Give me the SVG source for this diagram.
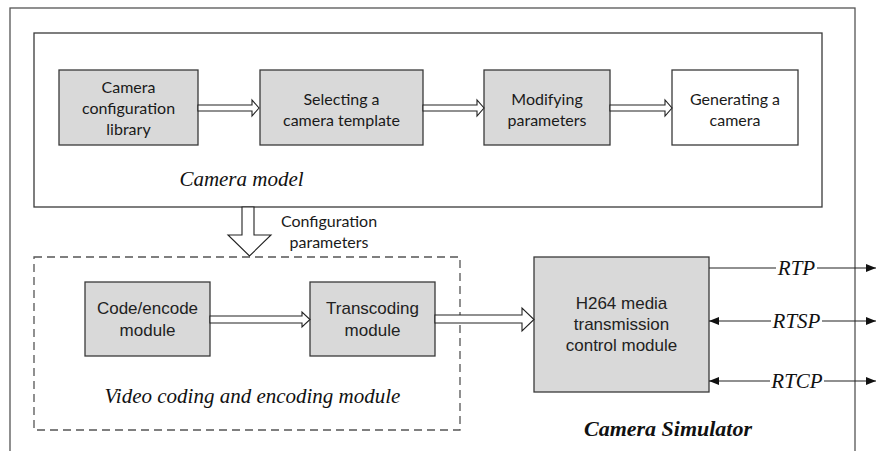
<svg xmlns="http://www.w3.org/2000/svg" width="876" height="451" viewBox="0 0 876 451">
<style>
.frame{fill:none;stroke:#555;stroke-width:1.3}
.box{fill:#d9d9d9;stroke:#3a3a3a;stroke-width:1.3}
.wbox{fill:#fff;stroke:#3a3a3a;stroke-width:1.3}
.dash{fill:none;stroke:#555;stroke-width:1.3;stroke-dasharray:8 5}
.arr{fill:#fff;stroke:#222;stroke-width:1.1}
.ln{stroke:#222;stroke-width:1.1;fill:none}
.t1{font-family:Lato,"Liberation Sans",sans-serif;font-size:16px;fill:#1a1a1a;text-anchor:middle}
.t2{font-family:"Liberation Sans",Arial,sans-serif;font-size:17px;fill:#222;text-anchor:middle}
.it{font-family:"Liberation Serif","Times New Roman",serif;font-style:italic;fill:#111}
.lbl{font-family:"Liberation Serif","Times New Roman",serif;font-style:italic;font-size:21px;fill:#111;text-anchor:middle}
</style>
<defs>
<marker id="fa" viewBox="0 0 10 8" refX="10" refY="4" markerWidth="10" markerHeight="8" markerUnits="userSpaceOnUse" orient="auto-start-reverse">
<path d="M0,0 L10,4 L0,8 Z" fill="#111"/>
</marker>
</defs>
<rect width="876" height="451" fill="#fff"/>
<rect id="camera-simulator" class="frame" x="10" y="8" width="845" height="460"/>
<g id="camera-model">
<rect class="wbox" x="34" y="33" width="788" height="174"/>
<text class="it" x="241.5" y="186" font-size="21" text-anchor="middle">Camera model</text>
</g>
<g id="n-library">
<rect class="box" x="59" y="70" width="139" height="75"/>
<text class="t1" x="128.5" y="93">Camera</text>
<text class="t1" x="128.5" y="114">configuration</text>
<text class="t1" x="128.5" y="135">library</text>
</g>
<g id="n-template">
<rect class="box" x="260" y="70" width="163" height="75"/>
<text class="t1" x="341.5" y="105">Selecting a</text>
<text class="t1" x="341.5" y="126">camera template</text>
</g>
<g id="n-modify">
<rect class="box" x="484" y="70" width="126" height="75"/>
<text class="t1" x="547" y="105">Modifying</text>
<text class="t1" x="547" y="126">parameters</text>
</g>
<g id="n-generate">
<rect class="wbox" x="672" y="70" width="126" height="75"/>
<text class="t1" x="735" y="105">Generating a</text>
<text class="t1" x="735" y="126">camera</text>
</g>
<g id="video-module">
<rect class="dash" x="34" y="257" width="426" height="173"/>
<text class="lbl" x="252.5" y="403">Video coding and encoding module</text>
</g>
<g id="n-code">
<rect class="box" x="85" y="282" width="125" height="74"/>
<text class="t2" x="147.5" y="314">Code/encode</text>
<text class="t2" x="147.5" y="336">module</text>
</g>
<g id="n-transcode">
<rect class="box" x="310" y="282" width="125" height="74"/>
<text class="t2" x="372.5" y="314">Transcoding</text>
<text class="t2" x="372.5" y="336">module</text>
</g>
<g id="n-h264">
<rect class="box" x="534" y="257" width="175" height="135"/>
<text class="t2" x="621.5" y="309">H264 media</text>
<text class="t2" x="621.5" y="330">transmission</text>
<text class="t2" x="621.5" y="351">control module</text>
</g>
<text class="it" x="668" y="436" font-size="22" font-weight="bold" text-anchor="middle">Camera Simulator</text>
<g id="connectors">
<path class="arr" d="M198,105 H252 V100 L259,108 L252,116 V111 H198 Z"/>
<path class="arr" d="M423,105 H477 V100 L484,108 L477,116 V111 H423 Z"/>
<path class="arr" d="M610,105 H665 V100 L672,108 L665,116 V111 H610 Z"/>
<path class="arr" d="M242,207 V235 H228 L249.5,256 L271,235 H254 V207 Z"/>
<text class="t1" x="329" y="227">Configuration</text>
<text class="t1" x="329" y="248">parameters</text>
<path class="arr" d="M210,316 H302 V312 L310,319.5 L302,327 V323 H210 Z"/>
<path class="arr" d="M435,315 H522 V308 L534,319.5 L522,331 V323 H435 Z"/>
<line class="ln" x1="709" y1="268" x2="876" y2="268" marker-end="url(#fa)"/>
<line class="ln" x1="709" y1="321" x2="876" y2="321" marker-start="url(#fa)" marker-end="url(#fa)"/>
<line class="ln" x1="709" y1="381" x2="876" y2="381" marker-start="url(#fa)" marker-end="url(#fa)"/>
<rect x="776" y="257" width="41" height="22" fill="#fff"/>
<rect x="771" y="310" width="51" height="22" fill="#fff"/>
<rect x="770" y="370" width="54" height="22" fill="#fff"/>
<text class="lbl" x="796.5" y="275" font-size="20">RTP</text>
<text class="lbl" x="796.5" y="328" font-size="20">RTSP</text>
<text class="lbl" x="797" y="388" font-size="20">RTCP</text>
</g>
</svg>
